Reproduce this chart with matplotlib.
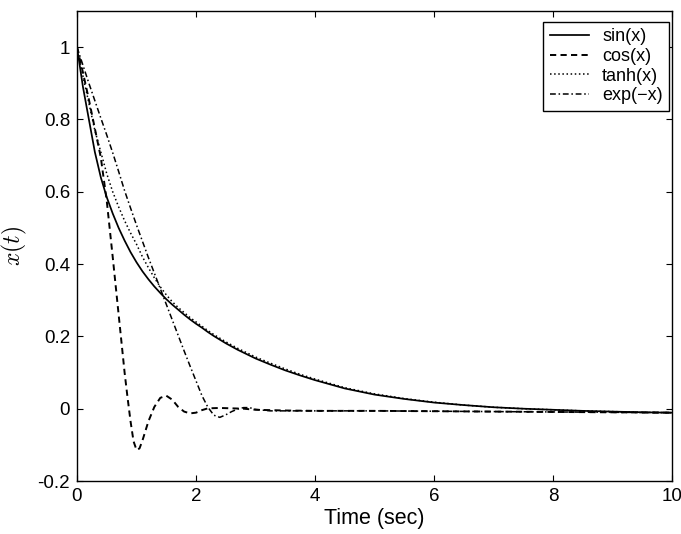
import matplotlib
matplotlib.use("Agg")
import matplotlib.pyplot as plt

plt.rcParams['font.family'] = ['Liberation Sans', 'DejaVu Sans']
plt.rcParams['mathtext.fontset'] = 'cm'
plt.rcParams['axes.unicode_minus'] = False

# ---- data ----
t_main = [0, 0.1, 0.2, 0.3, 0.4, 0.5, 0.6, 0.7, 0.8, 0.9, 1.0, 1.1, 1.2, 1.3, 1.4,
          1.5, 1.6, 1.7, 1.8, 1.9, 2.0, 2.1, 2.2, 2.3, 2.4, 2.5, 2.6, 2.7, 2.8, 2.9,
          3.0, 3.25, 3.5, 3.75, 4.0, 4.5, 5.0, 5.5, 6.0, 6.5, 7.0, 7.5, 8.0, 8.5,
          9.0, 9.5, 10.0]

sin_vals = [1.0, 0.89, 0.80, 0.71, 0.64, 0.585, 0.54, 0.50, 0.465, 0.433, 0.405,
            0.38, 0.358, 0.338, 0.32, 0.303, 0.288, 0.274, 0.26, 0.247, 0.235,
            0.224, 0.212, 0.201, 0.191, 0.181, 0.172, 0.163, 0.155, 0.147, 0.139,
            0.122, 0.106, 0.092, 0.079, 0.056, 0.039, 0.027, 0.017, 0.010, 0.004,
            0.0, -0.003, -0.006, -0.008, -0.010, -0.011]

tanh_vals = [1.0, 0.92, 0.845, 0.77, 0.71, 0.65, 0.60, 0.558, 0.52, 0.486, 0.455,
             0.42, 0.39, 0.362, 0.337, 0.315, 0.296, 0.280, 0.266, 0.252, 0.240,
             0.228, 0.216, 0.205, 0.195, 0.185, 0.176, 0.167, 0.159, 0.151, 0.143,
             0.126, 0.110, 0.095, 0.082, 0.058, 0.041, 0.028, 0.018, 0.010, 0.004,
             0.0, -0.003, -0.006, -0.008, -0.010, -0.011]

t_exp = [0, 0.1, 0.2, 0.3, 0.4, 0.5, 0.6, 0.7, 0.8, 0.9, 1.0, 1.1, 1.2, 1.3, 1.4,
         1.5, 1.6, 1.7, 1.8, 1.9, 2.0, 2.1, 2.2, 2.3, 2.4, 2.5, 2.6, 2.7, 2.8, 2.9,
         3.0, 3.25, 3.5, 4.0, 5.0, 6.0, 7.0, 8.0, 9.0, 10.0]
exp_vals = [1.0, 0.95, 0.90, 0.852, 0.804, 0.757, 0.708, 0.656, 0.603, 0.555,
            0.508, 0.463, 0.418, 0.375, 0.332, 0.289, 0.246, 0.203, 0.160, 0.118,
            0.077, 0.036, 0.004, -0.018, -0.024, -0.017, -0.008, -0.001, 0.003,
            0.003, -0.002, -0.006, -0.006, -0.006, -0.006, -0.007, -0.008, -0.009,
            -0.010, -0.011]

t_cos = [0, 0.1, 0.2, 0.3, 0.4, 0.5, 0.6, 0.7, 0.8, 0.85, 0.9, 0.95, 1.0, 1.05,
         1.1, 1.2, 1.3, 1.4, 1.5, 1.6, 1.7, 1.8, 1.9, 2.0, 2.1, 2.2, 2.4, 2.6,
         2.8, 3.0, 3.5, 4.0, 5.0, 6.0, 7.0, 8.0, 9.0, 10.0]
cos_vals = [1.0, 0.93, 0.855, 0.775, 0.695, 0.575, 0.42, 0.26, 0.10, 0.03, -0.035,
            -0.09, -0.114, -0.11, -0.088, -0.035, 0.005, 0.03, 0.036, 0.025, 0.005,
            -0.008, -0.013, -0.011, -0.004, 0.001, 0.002, 0.001, 0.0, -0.003,
            -0.005, -0.006, -0.006, -0.007, -0.008, -0.009, -0.010, -0.011]

labels = ['sin(x)', 'cos(x)', 'tanh(x)', 'exp(\u2212x)']
x_ticks = [0, 2, 4, 6, 8, 10]
x_ticklabels = ['0', '2', '4', '6', '8', '10']
y_ticks = [-0.2, 0, 0.2, 0.4, 0.6, 0.8, 1.0]
y_ticklabels = ['-0.2', '0', '0.2', '0.4', '0.6', '0.8', '1']

# ---- figure ----
fig = plt.figure(figsize=(6.81, 5.34), dpi=100)
ax = fig.add_axes([77 / 681, 1 - 481 / 534, 595 / 681, 470 / 534])

ax.plot(t_main, sin_vals, color='black', lw=1.25, linestyle='-', label=labels[0])
ax.plot(t_cos, cos_vals, color='black', lw=1.4, linestyle=(0, (3.2, 2.2)), label=labels[1])
ax.plot(t_main, tanh_vals, color='black', lw=1.1, linestyle=(0, (1, 1.7)), label=labels[2])
ax.plot(t_exp, exp_vals, color='black', lw=1.1, linestyle=(0, (3.8, 1.8, 1, 1.8)), label=labels[3])

ax.set_xlim(0, 10)
ax.set_ylim(-0.2, 1.1)
ax.set_xticks(x_ticks)
ax.set_xticklabels(x_ticklabels)
ax.set_yticks(y_ticks)
ax.set_yticklabels(y_ticklabels)
ax.tick_params(direction='in', top=True, right=True, length=4, width=0.8,
               labelsize=13.5, pad=5)
for s in ax.spines.values():
    s.set_linewidth(1.0)

ax.set_xlabel('Time (sec)', fontsize=15.5, labelpad=2)
ax.set_ylabel(r'$x(t)$', fontsize=17, labelpad=6)

leg = ax.legend(loc='upper right', bbox_to_anchor=(0.995, 0.977), borderaxespad=0,
                fontsize=13, fancybox=False, framealpha=1, edgecolor='black',
                handlelength=2.2, handletextpad=0.7, labelspacing=0.15,
                borderpad=0.35)
leg.get_frame().set_linewidth(1.0)

fig.savefig('out.png', dpi=100)
